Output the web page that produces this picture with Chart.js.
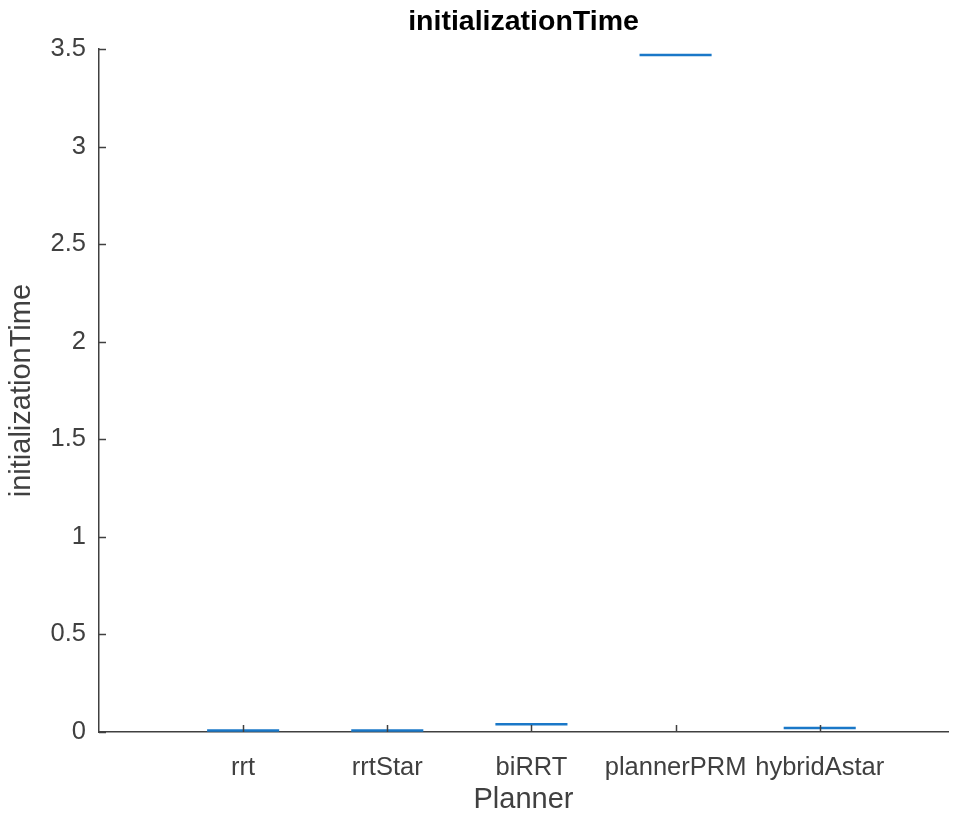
<!DOCTYPE html>
<html>
<head>
<meta charset="utf-8">
<script src="https://cdn.jsdelivr.net/npm/chart.js@4"></script>
<style>
  html, body { margin: 0; padding: 0; background: #fff; }
  #wrap { width: 956px; height: 817px; }
</style>
</head>
<body>
<div id="wrap"><canvas id="c"></canvas></div>
<script>
// planners on the x axis, one flat box (q1 = median = q3) each
const planners = ['rrt', 'rrtStar', 'biRRT', 'plannerPRM', 'hybridAstar'];
const initTime = [0.008, 0.008, 0.04, 3.47, 0.02];
const yTicks = [0, 0.5, 1, 1.5, 2, 2.5, 3, 3.5];

const boxHalf = 0.25;
const boxColor = '#1a78c8';
const axisColor = '#404040';
const font = "'Liberation Sans', Arial, Helvetica, sans-serif";

var datasets = planners.map(function (p, i) {
    return {
        label: p,
        data: [
            {x: i + 1 - boxHalf, y: initTime[i]},
            {x: i + 1 + boxHalf, y: initTime[i]}
        ],
        borderColor: boxColor,
        backgroundColor: boxColor,
        borderWidth: 2.5,
        pointRadius: 0,
        clip: false
    };
});

// matlab style ticks pointing into the plot
var innerTicks = {
    id: 'innerTicks',
    afterDraw: function (chart) {
        var ctx = chart.ctx, a = chart.chartArea;
        var xs = chart.scales.x, ys = chart.scales.y;
        ctx.save();
        ctx.strokeStyle = axisColor;
        ctx.lineWidth = 1.5;
        ctx.beginPath();
        xs.ticks.forEach(function (t) {
            var px = Math.round(xs.getPixelForValue(t.value)) + 0.5;
            ctx.moveTo(px, a.bottom);
            ctx.lineTo(px, a.bottom - 7);
        });
        ys.ticks.forEach(function (t) {
            var py = Math.round(ys.getPixelForValue(t.value)) + 0.5;
            ctx.moveTo(a.left, py);
            ctx.lineTo(a.left + 7, py);
        });
        ctx.stroke();
        ctx.restore();
    }
};

new Chart(document.getElementById('c').getContext('2d'), {
    type: 'line',
    data: {datasets: datasets},
    plugins: [innerTicks],
    options: {
        responsive: true,
        maintainAspectRatio: false,
        animation: false,
        layout: {padding: {left: 0, right: 8, top: 0, bottom: 0}},
        plugins: {
            legend: {display: false},
            tooltip: {enabled: false},
            title: {
                display: true,
                fullSize: false,
                text: 'initializationTime',
                color: '#000',
                font: {family: font, size: 28.5, weight: 'bold'},
                padding: {top: 5, bottom: 10}
            }
        },
        scales: {
            x: {
                type: 'linear',
                min: 0,
                max: 5.89,
                afterBuildTicks: function (scale) {
                    scale.ticks = planners.map(function (p, i) { return {value: i + 1}; });
                },
                afterFit: function (scale) { scale.height = 85; },
                ticks: {
                    autoSkip: false,
                    maxRotation: 0,
                    padding: 21,
                    color: axisColor,
                    font: {family: font, size: 25.5},
                    callback: function (v) { return planners[v - 1] || ''; }
                },
                grid: {display: true, drawOnChartArea: false, drawTicks: false},
                border: {display: true, color: axisColor, width: 1.5},
                title: {
                    display: true,
                    text: 'Planner',
                    color: axisColor,
                    font: {family: font, size: 29},
                    padding: {top: 0, bottom: 0}
                }
            },
            y: {
                min: 0,
                max: 3.5,
                afterBuildTicks: function (scale) {
                    scale.ticks = yTicks.map(function (v) { return {value: v}; });
                },
                afterFit: function (scale) { scale.width = 99; },
                ticks: {
                    padding: 13,
                    color: axisColor,
                    font: {family: font, size: 25.5},
                    callback: function (v) { return String(v); }
                },
                grid: {display: true, drawOnChartArea: false, drawTicks: false},
                border: {display: true, color: axisColor, width: 1.5},
                title: {
                    display: true,
                    text: 'initializationTime',
                    color: axisColor,
                    font: {family: font, size: 29},
                    padding: {top: 5, bottom: 0}
                }
            }
        }
    }
});
</script>
</body>
</html>
